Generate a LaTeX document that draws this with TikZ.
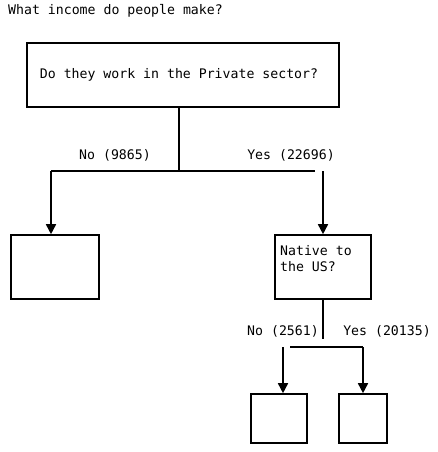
\documentclass[tikz,border=0pt]{standalone}
\usepackage{fontspec}
\setmonofont{DejaVu Sans Mono}
\usetikzlibrary{arrows.meta}
\begin{document}
\begin{tikzpicture}[x=1pt,y=-1pt,
  font=\ttfamily\fontsize{13.2}{16}\selectfont,
  box/.style={draw,line width=1.6pt,inner sep=0pt},
  txt/.style={inner sep=0pt},
  conn/.style={line width=1.6pt},
  arr/.style={conn,-{Triangle[width=10pt,length=10pt]}}]
\useasboundingbox (0,0) rectangle (437,452);
\node[txt,anchor=west] (title) at (8,11) {What income do people make?};
% boxes
\node[box,minimum width=312pt,minimum height=64pt] (root) at (183,75) {};
\node[txt] (rootq) at (179,75) {Do they work in the Private sector?};
\node[box,minimum width=88pt,minimum height=64pt] (leftbox) at (55,267) {};
\node[box,minimum width=96pt,minimum height=64pt] (native) at (323,267) {};
\node[txt,anchor=west,align=left] (nativeq) at (280,259) {Native to\\the US?};
\node[box,minimum width=56pt,minimum height=49pt] (bl) at (279,418.5) {};
\node[box,minimum width=48pt,minimum height=49pt] (br) at (363,418.5) {};
% labels
\node[txt] (no1) at (115,155) {No (9865)};
\node[txt] (yes1) at (291,155) {Yes (22696)};
\node[txt] (no2) at (283,331) {No (2561)};
\node[txt] (yes2) at (387,331) {Yes (20135)};
% connectors level 1
\coordinate (j1) at (179,171);
\coordinate (hL) at (51,171);
\coordinate (hR) at (315,171);
\coordinate (vR) at (323,171);
\draw[conn] ([xshift=-4pt]root.south) -- (j1);
\draw[conn] (hL) -- (hR);
\draw[arr] (hL) -- (hL |- leftbox.north);
\draw[arr] (vR) -- (native.north);
% connectors level 2
\coordinate (j2) at (323,339);
\coordinate (gL) at (290,347);
\coordinate (gR) at (363,347);
\coordinate (vL) at (283,347);
\draw[conn] (native.south) -- (j2);
\draw[conn] (gL) -- (gR);
\draw[arr] (vL) -- (vL |- bl.north);
\draw[arr] (gR) -- (br.north);
\end{tikzpicture}
\end{document}
